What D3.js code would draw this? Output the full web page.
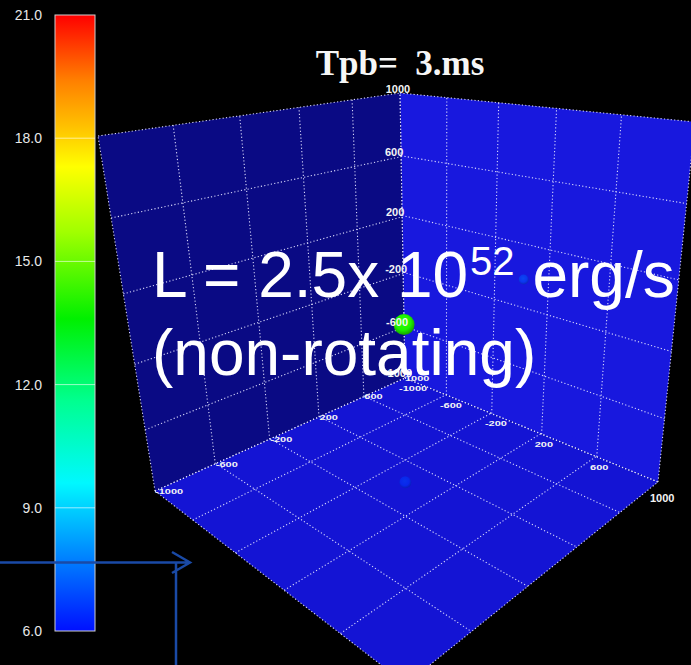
<!DOCTYPE html>
<html>
<head>
<meta charset="utf-8">
<script src="https://cdn.jsdelivr.net/npm/d3@7"></script>
<style>
  html, body { margin: 0; padding: 0; background: #000; }
  svg { display: block; }
</style>
</head>
<body>
<svg id="chart" width="691" height="665"></svg>
<script>
// ---- data -------------------------------------------------------------
const colorTicks = [6.0, 9.0, 12.0, 15.0, 18.0, 21.0];
const colorStopValues = [6.0, 7.0, 8.0, 9.6, 11.6, 13.6, 15.7, 17.3, 18.3, 19.4, 21.0];
const colorStopColors = ["#0010ff", "#0050ff", "#0090ff", "#00f8ff", "#00ff90", "#00f000",
                         "#a0ff00", "#ffff00", "#ffc000", "#ff8000", "#ff0000"];
const axisTicks = [-1000, -600, -200, 200, 600, 1000];
const titleText = "Tpb=  3.ms";
const noteLine1 = ["L = 2.5x 10", "52", " erg/s"];
const noteLine2 = "(non-rotating)";
// features in the volume: [face, s, t, value, radius]
const blobFace   = ["back", "right", "floor"];
const blobS      = [-580, 20, 30];
const blobT      = [0, -20, -30];
const blobValue  = [14.0, 7.0, 6.6];
const blobRadius = [10.5, 5, 6];

// ---- layout -----------------------------------------------------------
const W = 691, H = 665;
const svg = d3.select("#chart");
svg.append("rect").attr("width", W).attr("height", H).attr("fill", "#000");

// screen corners of the bounding box (perspective view)
const corner = {
  LT: [98, 136], LB: [155, 491],
  BT: [400, 93], B0: [405, 378],
  RT: [695, 122], RB: [658, 482],
  F:  [406, 684]
};

// projective map of the unit square onto a quad [p00, p10, p11, p01]
function quadMap(q) {
  const [x0, y0] = q[0], [x1, y1] = q[1], [x2, y2] = q[2], [x3, y3] = q[3];
  const dx1 = x1 - x2, dx2 = x3 - x2, dx3 = x0 - x1 + x2 - x3;
  const dy1 = y1 - y2, dy2 = y3 - y2, dy3 = y0 - y1 + y2 - y3;
  const den = dx1 * dy2 - dx2 * dy1;
  const g = (dx3 * dy2 - dx2 * dy3) / den;
  const h = (dx1 * dy3 - dx3 * dy1) / den;
  const a = x1 - x0 + g * x1, b = x3 - x0 + h * x3, c = x0;
  const d = y1 - y0 + g * y1, e = y3 - y0 + h * y3, f = y0;
  return (s, t) => {
    const z = g * s + h * t + 1;
    return [(a * s + b * t + c) / z, (d * s + e * t + f) / z];
  };
}

const unit = d3.scaleLinear().domain([-1000, 1000]).range([0, 1]);

const faces = {
  left:  { q: [corner.LB, corner.B0, corner.BT, corner.LT], fill: "#0a0a84" },
  right: { q: [corner.B0, corner.RB, corner.RT, corner.BT], fill: "#1818de" },
  floor: { q: [corner.LB, corner.B0, corner.RB, corner.F],  fill: "#1414d4" }
};
Object.values(faces).forEach(f => {
  const m = quadMap(f.q);
  f.map = (s, t) => m(unit(s), unit(t));
});

const line = d3.line();
const gBox = svg.append("g");

// faces
["left", "right", "floor"].forEach(k => {
  const f = faces[k];
  gBox.append("path")
    .attr("d", line([[-1000, -1000], [1000, -1000], [1000, 1000], [-1000, 1000]].map(p => f.map(p[0], p[1]))) + "Z")
    .attr("fill", f.fill);
});

// dotted grid on every face, including the outline
const gridStyle = sel => sel.attr("fill", "none").attr("stroke", "#e0e0ff")
  .attr("stroke-width", 1.1).attr("stroke-dasharray", "1.2,2.2").attr("opacity", 0.95);
["left", "right", "floor"].forEach(k => {
  const f = faces[k];
  axisTicks.forEach(v => {
    gBox.append("path").attr("d", line([f.map(v, -1000), f.map(v, 1000)])).call(gridStyle);
    gBox.append("path").attr("d", line([f.map(-1000, v), f.map(1000, v)])).call(gridStyle);
  });
});

// features inside the volume
const colorScale = d3.scaleLinear().domain(colorStopValues).range(colorStopColors);
const defs = svg.append("defs");
const blobPos = i => {
  if (blobFace[i] === "back") return faces.left.map(1000, blobS[i]);
  return faces[blobFace[i]].map(blobS[i], blobT[i]);
};
blobFace.forEach((fc, i) => {
  const id = "blob" + i;
  const base = d3.color(colorScale(blobValue[i]));
  const grad = defs.append("radialGradient").attr("id", id).attr("cx", "45%").attr("cy", "40%").attr("r", "60%");
  grad.append("stop").attr("offset", "0%").attr("stop-color", base.brighter(0.9));
  grad.append("stop").attr("offset", "60%").attr("stop-color", base);
  grad.append("stop").attr("offset", "100%").attr("stop-color", base.darker(1.2));
  const [x, y] = blobPos(i);
  svg.append("circle").attr("cx", x).attr("cy", y).attr("r", blobRadius[i])
    .attr("fill", `url(#${id})`).attr("opacity", fc === "back" ? 1 : 0.55);
});

// axis labels
const tickLabel = sel => sel.attr("fill", "#f4f4f4").attr("font-family", "Liberation Sans, Arial, sans-serif")
  .attr("font-weight", "bold").attr("font-size", 11);
axisTicks.forEach(v => {
  // vertical axis along the back edge
  const [x, y] = faces.left.map(1000, v);
  svg.append("text").attr("x", x - (v === 1000 ? 2 : 7)).attr("y", y + (v === 1000 ? -0 : -1))
    .attr("text-anchor", "middle").text(v).call(tickLabel);
  // floor axis along the left-back edge
  const [lx, ly] = faces.floor.map(v, -1000);
  svg.append("text").attr("transform", `translate(${lx},${ly + 3}) scale(1,0.65)`)
    .text(v).call(tickLabel);
  // floor axis along the right-back edge
  const [rx, ry] = faces.floor.map(1000, v);
  svg.append("text").attr("transform", `translate(${rx + (v === 1000 ? -8 : -6)},${ry + (v === 1000 ? 20 : 13)}) scale(1,${v === 1000 ? 1 : 0.65})`)
    .text(v).call(tickLabel);
});

// title
svg.append("text").attr("x", 400).attr("y", 75).attr("text-anchor", "middle")
  .attr("font-family", "Liberation Serif, Times New Roman, serif").attr("font-weight", "bold")
  .attr("font-size", 35).attr("fill", "#f6f6f6").style("white-space", "pre").text(titleText);

// annotation
const note = svg.append("g").attr("fill", "#ffffff").attr("font-family", "Liberation Sans, Arial, sans-serif");
const t1 = note.append("text").attr("x", 152).attr("y", 297).attr("font-size", 64).style("white-space", "pre");
t1.append("tspan").text(noteLine1[0]);
t1.append("tspan").attr("dx", 2).attr("dy", -22).attr("font-size", 40).text(noteLine1[1]);
t1.append("tspan").attr("dy", 22).text(noteLine1[2]);
note.append("text").attr("x", 152).attr("y", 375).attr("font-size", 64).text(noteLine2);

// colour bar
const cb = { x: 55, w: 40 };
const cbScale = d3.scaleLinear().domain([6, 21]).range([631, 15]);
const cbGrad = defs.append("linearGradient").attr("id", "cbgrad")
  .attr("x1", 0).attr("y1", 1).attr("x2", 0).attr("y2", 0);
colorStopValues.forEach((v, i) => {
  cbGrad.append("stop").attr("offset", (v - 6) / 15).attr("stop-color", colorStopColors[i]);
});
svg.append("rect").attr("x", cb.x).attr("y", cbScale(21)).attr("width", cb.w)
  .attr("height", cbScale(6) - cbScale(21)).attr("fill", "url(#cbgrad)")
  .attr("stroke", "#cfcfcf").attr("stroke-width", 1);
colorTicks.slice(1, -1).forEach(v => {
  svg.append("line").attr("x1", cb.x).attr("x2", cb.x + cb.w)
    .attr("y1", cbScale(v)).attr("y2", cbScale(v))
    .attr("stroke", "#ffffff").attr("stroke-opacity", 0.6).attr("stroke-width", 1);
});
const cbAxis = svg.append("g").attr("transform", `translate(${cb.x},0)`)
  .call(d3.axisLeft(cbScale).tickValues(colorTicks).tickFormat(d3.format(".1f")).tickSize(0).tickPadding(13));
cbAxis.select(".domain").remove();
cbAxis.selectAll("text").attr("fill", "#e8e8e8").attr("font-size", 14)
  .attr("font-family", "Liberation Sans, Arial, sans-serif");

// pointer arrow
const arrow = svg.append("g").attr("fill", "none").attr("stroke", "#1a4aa6").attr("stroke-width", 2.5);
arrow.append("path").attr("d", "M0,562.5 H189 M172,552 L190,562.5 L172,573 M176,562.5 V665");
</script>
</body>
</html>
